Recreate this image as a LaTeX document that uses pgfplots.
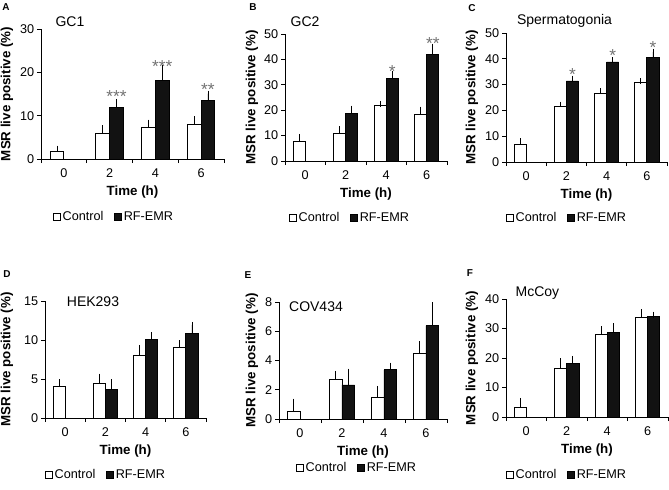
\documentclass[border=0pt]{standalone}
\usepackage{fontspec}
\setmainfont{Liberation Sans}
\usepackage{pgfplots}
\pgfplotsset{compat=1.18}

\pgfplotsset{
  panel/.style={
    scale only axis, anchor=south west,
    axis x line*=bottom, axis y line*=left,
    axis line style={line width=0.6pt},
    xmin=-0.5, xmax=3.5, ymin=0,
    xtick={-0.5,0.5,1.5,2.5,3.5}, xticklabels={0,2,4,6},
    x tick label as interval,
    tick align=outside, major tick length=3pt,
    tick style={line width=0.6pt, black},
    /pgf/number format/assume math mode=true,
    ticklabel style={font=\fontsize{9.5}{10}\selectfont},
    xticklabel style={yshift=-0.5pt},
    yticklabel style={xshift=1.5pt},
    xlabel={Time (h)},
    ylabel={MSR live positive (\%)},
    label style={font=\bfseries\fontsize{10}{11}\selectfont},
    xlabel style={at={(axis description cs:0.5,0)}, anchor=center, yshift=-24.75pt},
    ybar, bar width=0.3,
    legend image code/.code={\draw[#1, line width=0.6pt] (0pt,-2.6pt) rectangle (5.2pt,2.6pt);},
    legend columns=2,
    legend style={draw=none, fill=none, inner sep=0pt, anchor=center,
      font=\fontsize{9.5}{11}\selectfont,
      nodes={inner xsep=1.2pt},
      /tikz/every even column/.append style={column sep=7pt}},
  },
  ctrl/.style={draw=black, fill=white, line width=0.6pt, bar shift=-0.15,
    error bars/.cd, y dir=plus, y explicit,
    error bar style={line width=0.6pt, black},
    error mark options={line width=0.6pt, mark size=2.2pt, black}},
  rf/.style={draw=black, fill=black!93, line width=0.6pt, bar shift=0.15,
    error bars/.cd, y dir=plus, y explicit,
    error bar style={line width=0.6pt, black},
    error mark options={line width=0.6pt, mark size=2.2pt, black}},
}
\tikzset{
  sig/.style={text=black!55, font=\fontsize{13}{13}\selectfont, anchor=center, yshift=-2.5pt},
  ttl/.style={font=\fontsize{10.5}{12}\selectfont},
  lett/.style={font=\bfseries\fontsize{7.5}{9}\selectfont},
}

\begin{document}
\begin{tikzpicture}
\useasboundingbox (0,0) rectangle (501.75pt,-367.5pt);

% A: GC1
\begin{axis}[panel, at={(30.75pt,-119.25pt)}, width=137.25pt, height=97.5pt,
  ymax=30, ytick={0,10,20,30},
  ylabel style={at={(axis description cs:-0.186,0.5)}, anchor=center},
  legend style={at={(axis description cs:0.5,0)}, xshift=-13.9pt, yshift=-43.5pt}]
\addplot[ctrl] coordinates {(0,1.7) +- (0,0.7) (1,6.0) +- (0,1.1) (2,7.4) +- (0,1.0) (3,7.9) +- (0,1.3)};
\addplot[rf] coordinates {(1,12.0) +- (0,1.2) (2,18.1) +- (0,2.9) (3,13.5) +- (0,1.6)};
\legend{Control,RF-EMR}
\node[sig] at (axis cs:1.15,15.2) {***};
\node[sig] at (axis cs:2.15,22.1) {***};
\node[sig] at (axis cs:3.15,16.9) {**};
\end{axis}

% B: GC2
\begin{axis}[panel, at={(213.75pt,-120.75pt)}, width=121.5pt, height=95.25pt,
  ymax=50, ytick={0,10,...,50},
  ylabel style={at={(axis description cs:-0.204,0.5)}, anchor=center},
  legend style={at={(axis description cs:0.5,0)}, xshift=-12pt, yshift=-42.75pt}]
\addplot[ctrl] coordinates {(0,7.6) +- (0,1.9) (1,11.0) +- (0,1.6) (2,21.8) +- (0,0.7) (3,18.3) +- (0,2.0)};
\addplot[rf] coordinates {(1,18.7) +- (0,1.9) (2,32.4) +- (0,1.8) (3,42.0) +- (0,3.1)};
\legend{Control,RF-EMR}
\node[sig] at (axis cs:2.15,36.5) {*};
\node[sig] at (axis cs:3.15,47.7) {**};
\end{axis}

% C: Spermatogonia
\begin{axis}[panel, at={(379.5pt,-121.5pt)}, width=120.75pt, height=96.75pt,
  ymax=50, ytick={0,10,...,50},
  ylabel style={at={(axis description cs:-0.211,0.5)}, anchor=center},
  legend style={at={(axis description cs:0.5,0)}, xshift=-14.6pt, yshift=-42pt}]
\addplot[ctrl] coordinates {(0,6.7) +- (0,1.4) (1,21.5) +- (0,0.8) (2,26.4) +- (0,1.0) (3,30.7) +- (0,0.6)};
\addplot[rf] coordinates {(1,31.4) +- (0,0.9) (2,38.8) +- (0,0.6) (3,40.7) +- (0,2.0)};
\legend{Control,RF-EMR}
\node[sig] at (axis cs:1.15,35.2) {*};
\node[sig] at (axis cs:2.15,42.5) {*};
\node[sig] at (axis cs:3.15,45.5) {*};
\end{axis}

% D: HEK293
\begin{axis}[panel, at={(33.75pt,-313.5pt)}, width=120.75pt, height=87.75pt,
  ymax=15, ytick={0,5,10,15},
  ylabel style={at={(axis description cs:-0.236,0.5)}, anchor=center},
  legend style={at={(axis description cs:0.5,0)}, xshift=-14.6pt, yshift=-42.75pt}]
\addplot[ctrl] coordinates {(0,4.07) +- (0,0.55) (1,4.4) +- (0,0.9) (2,8.06) +- (0,0.95) (3,9.0) +- (0,0.6)};
\addplot[rf] coordinates {(1,3.7) +- (0,0.9) (2,10.1) +- (0,0.55) (3,10.8) +- (0,1.15)};
\legend{Control,RF-EMR}
\end{axis}

% E: COV434
\begin{axis}[panel, at={(209.25pt,-314.25pt)}, width=126pt, height=87.75pt,
  ymax=8, ytick={0,2,4,6,8},
  ylabel style={at={(axis description cs:-0.161,0.5)}, anchor=center},
  legend style={at={(axis description cs:0.5,0)}, xshift=-4.5pt, yshift=-36.75pt}]
\addplot[ctrl] coordinates {(0,0.5) +- (0,0.69) (1,2.74) +- (0,0.35) (2,1.51) +- (0,0.55) (3,4.5) +- (0,0.62)};
\addplot[rf] coordinates {(1,2.33) +- (0,0.92) (2,3.36) +- (0,0.3) (3,6.38) +- (0,1.42)};
\legend{Control,RF-EMR}
\end{axis}

% F: McCoy
\begin{axis}[panel, at={(379.5pt,-312.75pt)}, width=121.5pt, height=88.5pt,
  ymax=40, ytick={0,10,...,40},
  ylabel style={at={(axis description cs:-0.210,0.5)}, anchor=center},
  legend style={at={(axis description cs:0.5,0)}, xshift=-15pt, yshift=-43.5pt}]
\addplot[ctrl] coordinates {(0,3.4) +- (0,2.05) (1,16.4) +- (0,2.6) (2,28.1) +- (0,1.7) (3,33.75) +- (0,1.85)};
\addplot[rf] coordinates {(1,18.1) +- (0,1.6) (2,28.75) +- (0,2.05) (3,34.1) +- (0,0.6)};
\legend{Control,RF-EMR}
\end{axis}

% panel titles and letters
\node[ttl] at (52.5pt,-16.5pt) {GC1};
\node[ttl] at (228.75pt,-16.5pt) {GC2};
\node[ttl] at (423.4pt,-15.75pt) {Spermatogonia};
\node[ttl] at (69.75pt,-226.5pt) {HEK293};
\node[ttl] at (237pt,-230.25pt) {COV434};
\node[ttl] at (403.1pt,-219.75pt) {McCoy};
\node[lett] at (4.5pt,-5.25pt) {A};
\node[lett] at (189.75pt,-5.25pt) {B};
\node[lett] at (354pt,-6pt) {C};
\node[lett] at (5.25pt,-205.5pt) {D};
\node[lett] at (186pt,-206.25pt) {E};
\node[lett] at (352.5pt,-204.75pt) {F};
\end{tikzpicture}
\end{document}
